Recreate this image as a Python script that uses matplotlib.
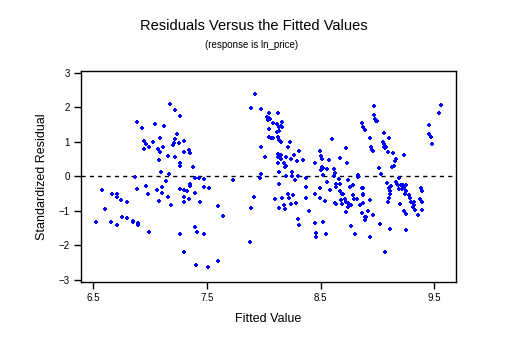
import matplotlib
matplotlib.use("Agg")
import matplotlib.pyplot as plt

plt.rcParams['font.family'] = ['Liberation Sans', 'DejaVu Sans']

# fitted values and standardized residuals
fitted = [
    7.175, 7.216, 7.260, 6.882, 6.931, 7.040, 7.119, 7.233, 7.087, 7.219,
    7.295, 6.946, 6.963, 7.028, 7.254, 7.212, 7.198, 6.987, 7.069, 7.110,
    6.946, 7.087, 7.295, 7.157, 7.216, 7.078, 7.260, 7.260, 7.095, 7.163,
    6.864, 7.137, 6.577, 6.961, 7.107, 6.882, 7.060, 7.263, 7.298, 6.662,
    6.708, 6.978, 7.104, 6.706, 7.154, 7.298, 6.741, 6.796, 7.078, 7.298,
    7.183, 6.603, 6.524, 6.656, 6.706, 6.750, 6.796, 6.847, 6.852, 6.893,
    6.893, 6.987, 7.263, 7.298,
    7.922, 7.884, 7.972, 8.043, 8.122, 8.025, 8.043, 8.054, 8.034, 8.078,
    8.113, 8.131, 8.043, 8.113, 8.131, 8.045, 8.060, 8.078, 8.122, 8.131,
    7.972, 8.010, 8.124, 8.124, 8.122, 8.131, 7.339, 7.350, 7.374, 7.972,
    7.963, 7.392, 7.427, 7.471, 7.729, 7.348, 7.348, 7.471, 7.520, 7.324,
    7.392, 7.339, 7.438, 7.911, 7.884, 8.131, 8.095, 8.131, 7.597, 7.638,
    7.392, 7.409, 7.471, 7.876, 7.597, 7.403, 7.506,
    8.160, 8.151, 8.160, 8.151, 8.227, 8.212, 8.306, 8.491, 8.151, 8.151,
    8.195, 8.236, 8.265, 8.344, 8.289, 8.175, 8.195, 8.186, 8.505, 8.514,
    8.450, 8.570, 8.599, 8.720, 8.667, 8.729, 8.511, 8.523, 8.505, 8.555,
    8.614, 8.245, 8.195, 8.250, 8.300, 8.373, 8.523, 8.614, 8.628, 8.658,
    8.825, 8.825, 8.274, 8.553, 8.632, 8.667, 8.637, 8.737, 8.781, 8.755,
    8.368, 8.494, 8.579, 8.672, 8.685, 8.699, 8.861, 8.872, 8.872, 8.872,
    8.212, 8.256, 8.447, 8.781, 8.160, 8.221, 8.368, 8.494, 8.790, 8.822,
    8.538, 8.678, 8.711, 8.720, 8.623, 8.635, 8.685, 8.737, 8.764, 8.740,
    8.869, 8.846, 8.177, 8.186, 8.239, 8.280, 8.394, 8.720, 8.863, 8.298,
    8.309, 8.450, 8.523, 8.766, 8.456, 8.456, 8.544, 8.799, 8.861, 8.869,
    8.887,
    8.966, 8.966, 8.978, 8.986, 8.995, 8.931, 9.057, 9.098, 9.045, 9.057,
    9.066, 9.072, 9.066, 9.057, 8.940, 8.949, 8.957, 9.089, 9.136, 9.233,
    9.162, 9.153, 9.145, 9.127, 9.010, 9.028, 9.558, 9.540, 9.450, 9.450,
    9.468, 9.479, 9.186, 9.083, 9.121, 9.101, 9.162, 9.168, 9.182, 9.206,
    9.226, 9.248, 9.191, 9.212, 9.233, 9.253, 9.107, 9.109, 9.241, 9.279,
    9.285, 9.098, 9.382, 9.391, 9.373, 9.391, 8.931, 9.294, 9.312, 9.321,
    9.323, 9.094, 9.195, 9.312, 9.329, 9.394, 8.919, 8.957, 9.233, 9.248,
    9.353, 8.890, 8.890, 8.901, 9.019, 9.109, 9.248, 8.931, 9.066,
]
resid = [
    2.09, 1.92, 1.75, 1.58, 1.39, 1.51, 1.47, 1.22, 1.10, 1.08,
    1.03, 1.03, 0.93, 0.99, 0.96, 0.96, 0.91, 0.84, 0.79, 0.84,
    0.79, 0.70, 0.70, 0.58, 0.55, 0.47, 0.38, 0.30, 0.12, 0.08,
    -0.02, -0.14, -0.40, -0.29, -0.31, -0.37, -0.40, -0.36, -0.40, -0.52,
    -0.50, -0.50, -0.49, -0.61, -0.61, -0.61, -0.69, -0.73, -0.72, -0.75,
    -0.84, -0.94, -1.33, -1.33, -1.42, -1.19, -1.21, -1.30, -1.33, -1.36,
    -1.42, -1.62, -1.68, -2.19,
    2.38, 1.97, 1.94, 1.83, 1.83, 1.71, 1.68, 1.66, 1.63, 1.54,
    1.51, 1.42, 1.37, 1.28, 1.32, 1.13, 1.10, 1.10, 1.13, 1.05,
    0.84, 0.55, 0.64, 0.55, 0.38, 0.12, 0.76, 0.67, 0.26, 0.06,
    -0.06, -0.06, -0.06, -0.08, -0.11, -0.23, -0.29, -0.32, -0.34, -0.43,
    -0.49, -0.66, -0.75, -0.61, -0.92, -0.23, -0.66, -0.92, -0.87, -1.16,
    -1.48, -1.62, -1.68, -1.91, -2.45, -2.58, -2.63,
    1.57, 1.45, 1.42, 0.99, 0.99, 0.84, 0.73, 0.73, 0.61, 0.51,
    0.55, 0.50, 0.61, 0.47, 0.44, 0.38, 0.29, 0.26, 0.58, 0.50,
    0.40, 0.46, 1.08, 0.81, 0.52, 0.38, 0.26, 0.23, 0.18, 0.21,
    0.21, 0.12, 0.00, 0.00, 0.00, -0.05, 0.03, 0.01, 0.09, -0.08,
    0.03, -0.03, -0.11, -0.17, -0.23, -0.23, -0.31, -0.11, -0.26, -0.32,
    -0.32, -0.34, -0.40, -0.43, -0.52, -0.50, -0.34, -0.34, -0.52, -0.55,
    -0.52, -0.55, -0.52, -0.55, -0.63, -0.63, -0.63, -0.63, -0.66, -0.66,
    -0.72, -0.69, -0.66, -0.73, -0.76, -0.79, -0.81, -0.76, -0.84, -0.89,
    -0.78, -0.84, -0.84, -0.95, -0.81, -0.78, -1.01, -1.04, -1.07, -1.24,
    -1.42, -1.36, -1.33, -1.45, -1.65, -1.77, -1.67, -1.67, 1.54, 1.42,
    1.34,
    2.03, 1.77, 1.66, 1.61, 1.59, 1.10, 1.25, 1.10, 0.99, 0.93,
    0.89, 0.86, 0.81, 0.84, 0.84, 0.76, 0.73, 0.70, 0.67, 0.61,
    0.50, 0.44, 0.30, 0.26, 0.23, 0.06, 2.06, 1.83, 1.48, 1.22,
    1.13, 0.93, -0.06, -0.20, -0.27, -0.34, -0.17, -0.23, -0.26, -0.26,
    -0.26, -0.26, -0.36, -0.36, -0.33, -0.43, -0.43, -0.52, -0.52, -0.55,
    -0.63, -0.63, -0.34, -0.43, -0.66, -0.75, -0.69, -0.75, -0.78, -0.83,
    -0.75, -0.75, -0.81, -0.90, -0.97, -0.98, -1.01, -1.13, -1.01, -1.09,
    -1.13, -1.19, -1.26, -1.19, -1.39, -1.53, -1.56, -1.77, -2.20,
]

xticks = [6.5, 7.5, 8.5, 9.5]
yticks = [-3, -2, -1, 0, 1, 2, 3]

fig = plt.figure(figsize=(5.08, 3.54), dpi=100)
ax = fig.add_axes([0.1594, 0.2034, 0.7382, 0.596])

ax.scatter(fitted, resid, marker='P', s=12, color='#0000ff', linewidths=0, zorder=3)
ax.axhline(0, color='black', linestyle=(0, (3, 3)), linewidth=1)

ax.set_xlim(6.392, 9.690)
ax.set_ylim(-3.06, 3.05)
ax.set_xticks(xticks)
ax.set_xticklabels([str(t) for t in xticks])
ax.set_yticks(yticks)
ax.tick_params(direction='out', length=5, width=1, labelsize=7, pad=3)
for s in ax.spines.values():
    s.set_linewidth(1)

ax.set_xlabel('Fitted Value', fontsize=9, labelpad=7)
ax.set_ylabel('Standardized Residual', fontsize=9, labelpad=8)

fig.text(0.5, 0.915, 'Residuals Versus the Fitted Values', ha='center', fontsize=10.5)
fig.text(0.496, 0.863, '(response is ln_price)', ha='center', fontsize=7)

fig.savefig('out.png', dpi=100)
